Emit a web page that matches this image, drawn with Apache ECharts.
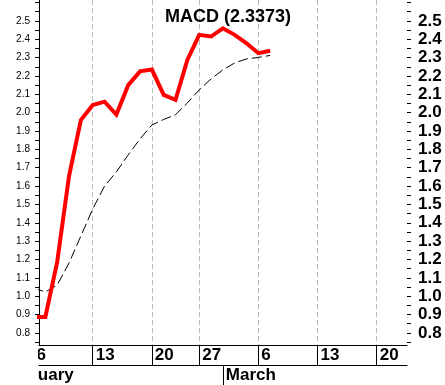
<!DOCTYPE html>
<html>
<head>
<meta charset="utf-8">
<script src="https://cdn.jsdelivr.net/npm/echarts@6/dist/echarts.min.js"></script>
<style>
  html, body { margin: 0; padding: 0; background: #fff; }
  #chart { width: 445px; height: 385px; }
</style>
</head>
<body>
<div id="chart"></div>
<script>
// trading days shown on the axis (Feb 20 is a holiday)
var days = ['Feb 1', 'Feb 2', 'Feb 3', 'Feb 6', 'Feb 7', 'Feb 8', 'Feb 9', 'Feb 10',
  'Feb 13', 'Feb 14', 'Feb 15', 'Feb 16', 'Feb 17', 'Feb 21', 'Feb 22', 'Feb 23', 'Feb 24',
  'Feb 27', 'Feb 28', 'Mar 1', 'Mar 2', 'Mar 3', 'Mar 6', 'Mar 7', 'Mar 8', 'Mar 9', 'Mar 10',
  'Mar 13', 'Mar 14', 'Mar 15', 'Mar 16', 'Mar 17', 'Mar 20', 'Mar 21', 'Mar 22', 'Mar 23'];

var dataDays = ['Feb 6', 'Feb 7', 'Feb 8', 'Feb 9', 'Feb 10', 'Feb 13', 'Feb 14', 'Feb 15',
  'Feb 16', 'Feb 17', 'Feb 21', 'Feb 22', 'Feb 23', 'Feb 24', 'Feb 27', 'Feb 28', 'Mar 1',
  'Mar 2', 'Mar 3', 'Mar 6', 'Mar 7'];
var macd = [0.887, 0.887, 1.187, 1.655, 1.96, 2.042, 2.06, 1.99, 2.15, 2.225, 2.235,
  2.097, 2.07, 2.287, 2.424, 2.415, 2.46, 2.424, 2.378, 2.324, 2.3373];
var signal = [1.045, 1.023, 1.061, 1.181, 1.328, 1.475, 1.60, 1.677, 1.77, 1.857, 1.933,
  1.963, 1.989, 2.053, 2.124, 2.184, 2.233, 2.271, 2.293, 2.301, 2.312];

var weekTicks = ['Feb 6', 'Feb 13', 'Feb 21', 'Feb 27', 'Mar 6', 'Mar 13', 'Mar 20'];
var weekLabels = ['6', '13', '20', '27', '6', '13', '20'];
var monthTicks = ['Feb 1', 'Mar 1'];
var monthLabels = ['February', 'March'];

var yTicks = [0.75, 0.8, 0.85, 0.9, 0.95, 1.0, 1.05, 1.1, 1.15, 1.2, 1.25, 1.3, 1.35, 1.4,
  1.45, 1.5, 1.55, 1.6, 1.65, 1.7, 1.75, 1.8, 1.85, 1.9, 1.95, 2.0, 2.05, 2.1, 2.15, 2.2,
  2.25, 2.3, 2.35, 2.4, 2.45, 2.5, 2.55, 2.6];
var yLabels = [0.8, 0.9, 1.0, 1.1, 1.2, 1.3, 1.4, 1.5, 1.6, 1.7, 1.8, 1.9, 2.0, 2.1, 2.2,
  2.3, 2.4, 2.5];

var FONT = '"Liberation Sans", Arial, sans-serif';
var xMin = 3.462, xMax = 34.56;
var yMin = 0.734, yMax = 2.614;

function idx(d) { return days.indexOf(d); }
function pairs(vals) {
  return vals.map(function (v, i) { return [idx(dataDays[i]), v]; });
}

var weekIdx = weekTicks.map(idx);
var monthIdx = monthTicks.map(idx);

var chart = echarts.init(document.getElementById('chart'), null, { renderer: 'canvas' });

var option = {
  animation: false,
  backgroundColor: '#fff',
  title: {
    text: 'MACD (' + macd[macd.length - 1] + ')',
    left: 160, top: 3,
    textStyle: { fontFamily: FONT, fontWeight: 'bold', fontSize: 18, color: '#000' }
  },
  grid: { left: 39, right: 38, top: 0, bottom: 40 },
  xAxis: [{
    type: 'value', min: xMin, max: xMax, position: 'bottom',
    axisLine: { show: true, onZero: false, lineStyle: { color: '#000', width: 1 } },
    axisTick: { show: true, customValues: weekIdx, length: 20, lineStyle: { color: '#000' } },
    axisLabel: {
      customValues: weekIdx, align: 'left', margin: 2, padding: [0, 0, 0, 3],
      fontFamily: FONT, fontWeight: 'bold', fontSize: 17, color: '#000',
      formatter: function (v) { return weekLabels[weekIdx.indexOf(v)]; }
    },
    splitLine: { show: true, lineStyle: { color: '#bdbdbd', type: [5, 3], width: 1 } }
  }, {
    type: 'value', min: xMin, max: xMax, position: 'bottom', offset: 20,
    axisLine: { show: true, onZero: false, lineStyle: { color: '#000', width: 1 } },
    axisTick: { show: true, customValues: monthIdx, length: 20, lineStyle: { color: '#000' } },
    axisLabel: {
      customValues: monthIdx, align: 'left', margin: 2, padding: [0, 0, 0, 3],
      fontFamily: FONT, fontWeight: 'bold', fontSize: 17, color: '#000',
      formatter: function (v) { return monthLabels[monthIdx.indexOf(v)]; }
    },
    splitLine: { show: false }
  }],
  yAxis: [{
    type: 'value', min: yMin, max: yMax, position: 'left',
    axisLine: { show: true, lineStyle: { color: '#000', width: 1 } },
    axisTick: { show: true, customValues: yTicks, length: 4, lineStyle: { color: '#000' } },
    axisLabel: {
      customValues: yLabels, margin: 9, fontFamily: FONT, fontSize: 10, color: '#000',
      formatter: function (v) { return v.toFixed(1); }
    },
    splitLine: { show: false }
  }, {
    type: 'value', min: yMin, max: yMax, position: 'right',
    axisLine: { show: false },
    axisTick: { show: true, customValues: yTicks, length: 4, lineStyle: { color: '#000' } },
    axisLabel: {
      customValues: yLabels, margin: 11, fontFamily: FONT, fontWeight: 'bold', fontSize: 17,
      color: '#000',
      formatter: function (v) { return v.toFixed(1); }
    },
    splitLine: { show: false }
  }],
  series: [{
    name: 'Signal', type: 'line', data: pairs(signal), showSymbol: false, z: 2,
    lineStyle: { color: '#000', width: 1, type: [10, 4] }
  }, {
    name: 'MACD', type: 'line', data: pairs(macd), showSymbol: false, z: 3,
    lineStyle: { color: '#ff0000', width: 4, join: 'miter' }
  }]
};
chart.setOption(option);

// labels whose tick sits left of the plot: drawn through the axis scale, cut at the plot edge
var left = chart.convertToPixel({ xAxisIndex: 0 }, xMin);
var bottom = chart.convertToPixel({ yAxisIndex: 0 }, yMin);
chart.setOption({
  graphic: [{
    type: 'text', z: 50,
    x: chart.convertToPixel({ xAxisIndex: 0 }, idx(weekTicks[0])) + 3, y: bottom + 2,
    style: { text: weekLabels[0], font: 'bold 17px ' + FONT, fill: '#000', verticalAlign: 'top' }
  }, {
    type: 'text', z: 50,
    x: chart.convertToPixel({ xAxisIndex: 0 }, monthIdx[0]) + 3, y: bottom + 22,
    style: { text: monthLabels[0], font: 'bold 17px ' + FONT, fill: '#000', verticalAlign: 'top' }
  }, {
    type: 'rect', z: 60,
    shape: { x: 0, y: bottom + 1, width: left - 1, height: 45 },
    style: { fill: '#fff' }
  }]
});
</script>
</body>
</html>
